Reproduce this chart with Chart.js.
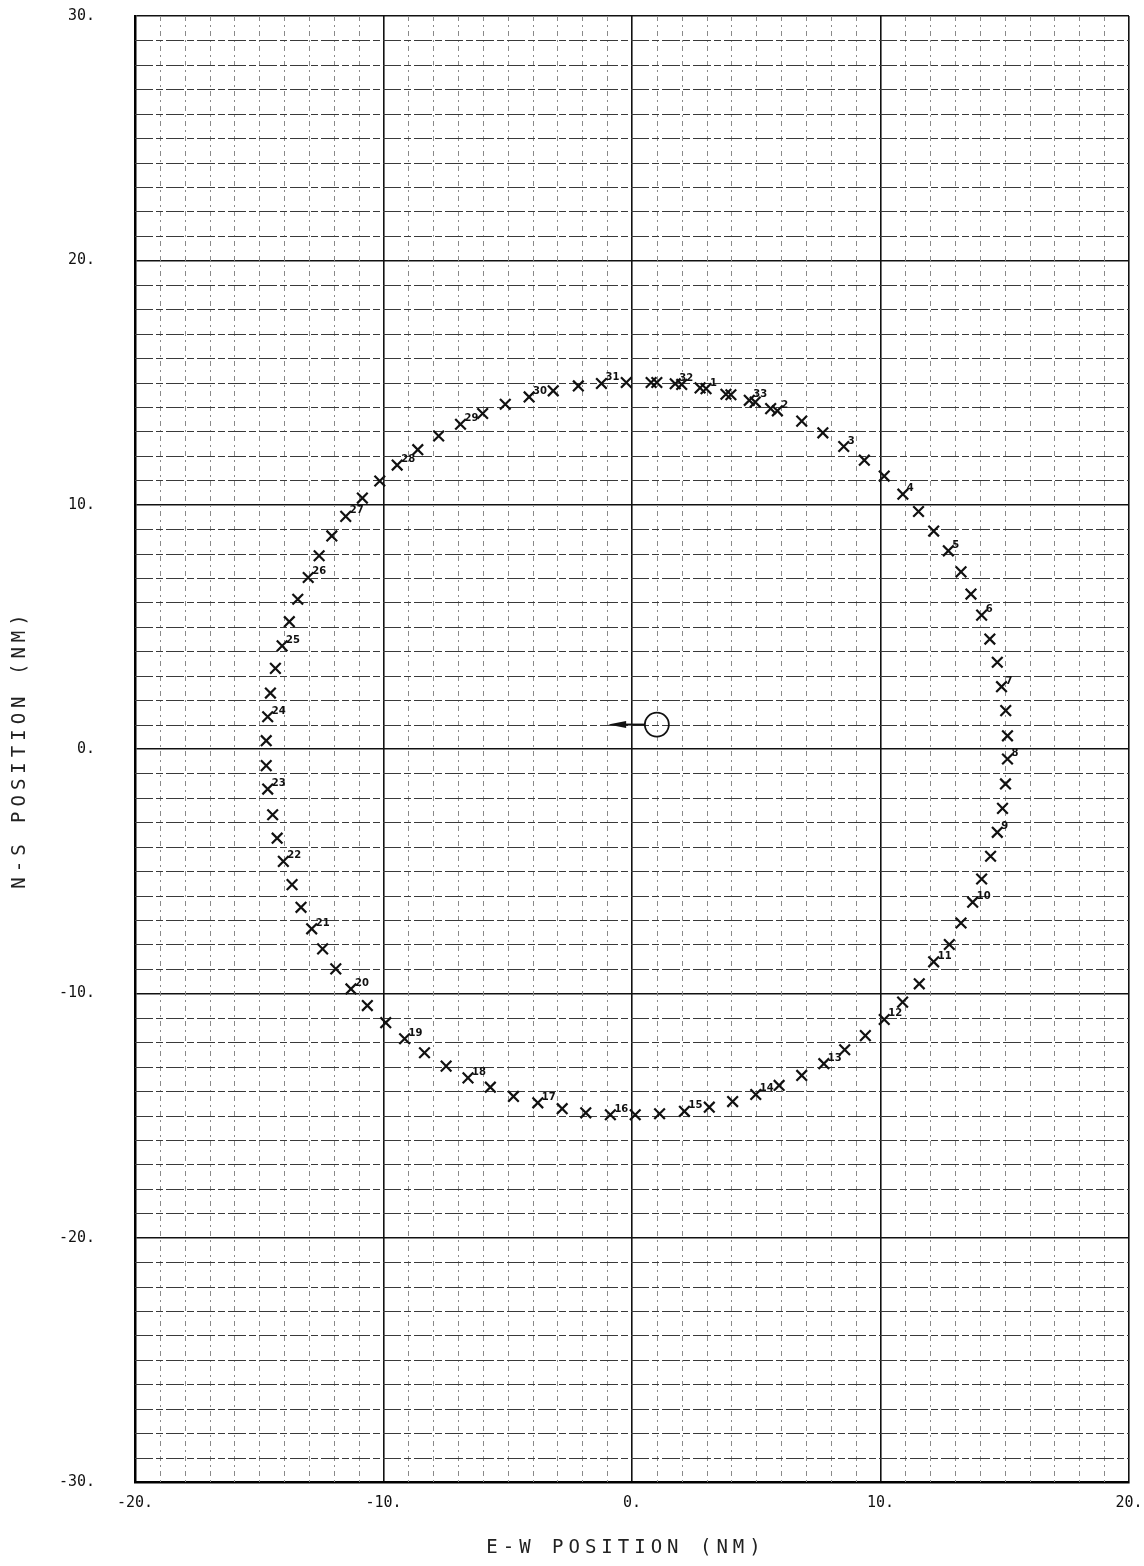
<!DOCTYPE html>
<html><head><meta charset="utf-8">
<script src="https://cdn.jsdelivr.net/npm/chart.js@4.4.0/dist/chart.umd.min.js"></script>
<style>html,body{margin:0;padding:0;background:#fff;}#wrap{position:relative;width:1144px;height:1566px;}</style>
</head><body><div id="wrap"><canvas id="c" width="1144" height="1566"></canvas></div>
<script>
// Track positions (NM), in time order
const trackX = [1.0, 2.0, 2.98, 3.98, 4.96, 5.85, 6.83, 7.68, 8.52, 9.35, 10.15, 10.9, 11.53, 12.14, 12.73, 13.24, 13.64, 14.07, 14.4, 14.7, 14.87, 15.04, 15.11, 15.11, 15.03, 14.91, 14.7, 14.43, 14.07, 13.71, 13.24, 12.77, 12.14, 11.56, 10.89, 10.15, 9.39, 8.56, 7.72, 6.83, 5.92, 4.98, 4.05, 3.11, 2.11, 1.11, 0.13, -0.87, -1.86, -2.81, -3.79, -4.77, -5.7, -6.6, -7.48, -8.35, -9.15, -9.91, -10.65, -11.31, -11.92, -12.45, -12.89, -13.32, -13.68, -14.03, -14.28, -14.46, -14.66, -14.72, -14.72, -14.66, -14.55, -14.35, -14.08, -13.79, -13.45, -13.03, -12.59, -12.08, -11.52, -10.85, -10.15, -9.45, -8.62, -7.78, -6.9, -6.01, -5.1, -4.14, -3.17, -2.16, -1.23, -0.23, 0.77, 1.74, 2.74, 3.78, 4.72, 5.58];
const trackY = [15.0, 14.92, 14.75, 14.5, 14.2, 13.84, 13.42, 12.94, 12.38, 11.82, 11.17, 10.43, 9.72, 8.92, 8.11, 7.25, 6.34, 5.48, 4.5, 3.55, 2.55, 1.57, 0.54, -0.41, -1.43, -2.43, -3.41, -4.39, -5.32, -6.27, -7.12, -8.0, -8.71, -9.61, -10.36, -11.07, -11.73, -12.31, -12.88, -13.36, -13.77, -14.14, -14.43, -14.66, -14.83, -14.93, -14.97, -14.97, -14.89, -14.72, -14.48, -14.22, -13.84, -13.46, -12.98, -12.43, -11.86, -11.2, -10.5, -9.82, -9.0, -8.18, -7.36, -6.48, -5.55, -4.6, -3.65, -2.69, -1.64, -0.68, 0.34, 1.32, 2.29, 3.3, 4.22, 5.21, 6.13, 7.02, 7.91, 8.72, 9.52, 10.27, 10.97, 11.62, 12.25, 12.81, 13.29, 13.73, 14.11, 14.41, 14.66, 14.86, 14.96, 15.0, 15.0, 14.95, 14.78, 14.52, 14.27, 13.93];
const trackLabels = ['', '', '1', '', '', '2', '', '', '3', '', '', '4', '', '', '5', '', '', '6', '', '', '7', '', '', '8', '', '', '9', '', '', '10', '', '', '11', '', '', '12', '', '', '13', '', '', '14', '', '', '15', '', '', '16', '', '', '17', '', '', '18', '', '', '19', '', '', '20', '', '', '21', '', '', '22', '', '', '23', '', '', '24', '', '', '25', '', '', '26', '', '', '27', '', '', '28', '', '', '29', '', '', '30', '', '', '31', '', '', '32', '', '', '33', ''];
// Reference (ship) position and heading arrow tip
const shipX = [1.0];
const shipY = [1.0];
const headingTipX = [-0.96];
// Axes
const xRange = [-20, 20];
const yRange = [-30, 30];
const majorStep = 10;
const minorStep = 1;
const xTitle = 'E-W POSITION (NM)';
const yTitle = 'N-S POSITION (NM)';

const FONT = "'DejaVu Sans Mono', 'Liberation Mono', monospace";

const minorGrid = {
  id: 'minorGrid',
  beforeDatasetsDraw(chart) {
    const {ctx, chartArea: a, scales: {x, y}} = chart;
    ctx.save();
    ctx.lineWidth = 1;
    // vertical minor lines
    ctx.strokeStyle = '#8a8a8a';
    ctx.setLineDash([5, 4, 2, 4]);
    for (let v = xRange[0] + minorStep; v < xRange[1]; v += minorStep) {
      if (Math.abs(v % majorStep) < 1e-9) continue;
      const px = Math.round(x.getPixelForValue(v)) + 0.5;
      ctx.beginPath(); ctx.moveTo(px, a.top); ctx.lineTo(px, a.bottom); ctx.stroke();
    }
    // horizontal minor lines
    ctx.strokeStyle = '#3a3a3a';
    ctx.setLineDash([18, 3, 7, 3]);
    for (let v = yRange[0] + minorStep; v < yRange[1]; v += minorStep) {
      if (Math.abs(v % majorStep) < 1e-9) continue;
      const py = Math.round(y.getPixelForValue(v)) + 0.5;
      ctx.beginPath(); ctx.moveTo(a.left, py); ctx.lineTo(a.right, py); ctx.stroke();
    }
    ctx.restore();
  }
};

const annotations = {
  id: 'annotations',
  afterDatasetsDraw(chart) {
    const {ctx, scales: {x, y}} = chart;
    ctx.save();
    // point number labels
    const meta = chart.getDatasetMeta(0);
    ctx.fillStyle = '#111';
    ctx.font = "bold 10px 'DejaVu Sans', sans-serif";
    ctx.textAlign = 'left';
    ctx.textBaseline = 'alphabetic';
    meta.data.forEach((pt, i) => {
      const t = trackLabels[i];
      if (!t) return;
      ctx.fillText(t, pt.x + 4, pt.y - 3);
    });
    // heading arrow from ship circle
    const sm = chart.getDatasetMeta(1).data[0];
    const r = 12;
    const tipPx = x.getPixelForValue(headingTipX[0]);
    const py = y.getPixelForValue(shipY[0]);
    ctx.strokeStyle = '#111';
    ctx.lineWidth = 2;
    ctx.beginPath(); ctx.moveTo(sm.x - r, py); ctx.lineTo(tipPx + 12, py); ctx.stroke();
    ctx.beginPath();
    ctx.moveTo(tipPx, py);
    ctx.lineTo(tipPx + 18, py - 3.5);
    ctx.lineTo(tipPx + 18, py + 3.5);
    ctx.closePath();
    ctx.fillStyle = '#111';
    ctx.fill();
    ctx.restore();
  }
};

const axisTitles = {
  id: 'axisTitles',
  afterDraw(chart) {
    const {ctx, chartArea: a} = chart;
    ctx.save();
    ctx.fillStyle = '#222';
    ctx.font = "19px " + FONT;
    ctx.letterSpacing = '5px';
    ctx.textAlign = 'center';
    ctx.textBaseline = 'middle';
    ctx.fillText(xTitle, (a.left + a.right) / 2 - 6, 1548);
    ctx.translate(20, (a.top + a.bottom) / 2);
    ctx.rotate(-Math.PI / 2);
    ctx.fillText(yTitle, 0, 0);
    ctx.restore();
  }
};

const tickFont = {family: FONT, size: 15};

new Chart(document.getElementById('c'), {
  type: 'scatter',
  data: {
    datasets: [
      {
        data: trackX.map((v, i) => ({x: v, y: trackY[i]})),
        pointStyle: 'crossRot', radius: 7.5, borderWidth: 2.2,
        borderColor: '#111', backgroundColor: '#111', showLine: false
      },
      {
        data: shipX.map((v, i) => ({x: v, y: shipY[i]})),
        pointStyle: 'circle', radius: 12, borderWidth: 1.8,
        borderColor: '#111', backgroundColor: 'rgba(0,0,0,0)', showLine: false
      }
    ]
  },
  options: {
    responsive: false,
    animation: false,
    devicePixelRatio: 1,
    layout: {padding: {top: 16, right: 15, left: 0, bottom: 0}},
    plugins: {legend: {display: false}, tooltip: {enabled: false}},
    scales: {
      x: {
        type: 'linear', min: xRange[0], max: xRange[1],
        ticks: {stepSize: majorStep, callback: v => v + '.', font: tickFont, color: '#111', padding: 0, maxRotation: 0},
        grid: {color: '#111', lineWidth: 1.6, drawTicks: true, tickLength: 12, tickColor: 'rgba(0,0,0,0)'},
        border: {display: true, color: '#000', width: 2.5},
        afterFit: s => { s.height = 84; }
      },
      y: {
        type: 'linear', min: yRange[0], max: yRange[1],
        ticks: {stepSize: majorStep, callback: v => v + '.', font: tickFont, color: '#111', padding: 0},
        grid: {color: '#111', lineWidth: 1.6, drawTicks: true, tickLength: 40, tickColor: 'rgba(0,0,0,0)'},
        border: {display: true, color: '#000', width: 2.5},
        afterFit: s => { s.width = 135; }
      }
    }
  },
  plugins: [minorGrid, annotations, axisTitles]
});
</script>
</body></html>
